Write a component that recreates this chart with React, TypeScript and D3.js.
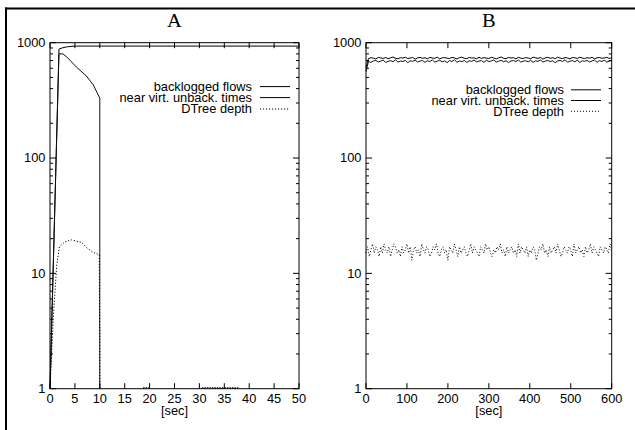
import React from 'react';
import * as d3 from 'd3';

const panelTitles = ['A', 'B'];
const legendLabels = ['backlogged flows', 'near virt. unback. times', 'DTree depth'];
const yTickValues = [1, 10, 100, 1000];
const xTicksA = [0, 5, 10, 15, 20, 25, 30, 35, 40, 45, 50];
const xTicksB = [0, 100, 200, 300, 400, 500, 600];
const xLabel = '[sec]';

// Panel A (time in sec, values)
const aBacklogT = [0, 1.8, 2.6, 3.5, 5, 50];
const aBacklogV = [1, 880, 905, 922, 935, 935];
const aNearT = [0, 1.8, 2.6, 3.4, 5.3, 7.3, 8.7, 10, 10];
const aNearV = [1, 800, 800, 750, 615, 515, 430, 330, 1];
const aDepthT = [0, 0.7, 1.35, 1.9, 3, 4.3, 5.3, 6.3, 7.5, 8.7, 9.9, 10];
const aDepthV = [1, 4.4, 11.8, 17, 18.8, 19.5, 19, 18.6, 16.5, 15.2, 14.5, 1];
const aDepthFloorStart = [18.7, 30.5];
const aDepthFloorEnd = [20, 38];

// Panel B: sampled every 6 s (flows) and every 4 s (depth)
const bFlowStep = 6;
const bBacklogV = [610, 728, 741, 735, 722, 746, 738, 730, 744, 727, 739, 751, 733, 725, 742, 736, 748, 729, 735, 744, 721, 738, 747, 732, 740, 726, 745, 737, 731, 749, 724, 739, 743, 734, 728, 746, 738, 722, 741, 750, 733, 727, 744, 736, 739, 725, 748, 731, 742, 735, 729, 746, 738, 724, 740, 751, 733, 728, 745, 737, 741, 723, 747, 734, 730, 743, 736, 726, 749, 739, 732, 744, 721, 738, 746, 733, 741, 727, 750, 735, 729, 743, 737, 724, 745, 740, 731, 748, 736, 728, 742, 734, 747, 725, 739, 744, 732, 738, 746, 730, 741];
const bNearV = [560, 688, 676, 695, 702, 681, 692, 708, 673, 690, 699, 684, 712, 678, 694, 686, 703, 671, 697, 689, 706, 680, 693, 701, 675, 698, 687, 709, 679, 691, 704, 683, 696, 672, 700, 688, 711, 677, 694, 685, 702, 674, 697, 690, 707, 681, 693, 699, 676, 705, 686, 695, 710, 679, 691, 703, 684, 698, 673, 694, 700, 687, 708, 678, 692, 697, 682, 704, 675, 696, 689, 709, 680, 693, 701, 685, 698, 671, 695, 703, 686, 712, 677, 691, 699, 683, 706, 674, 697, 690, 702, 681, 694, 708, 676, 699, 688, 704, 679, 692, 700];
const bDepthStep = 4;
const bDepthV = [15, 17, 14, 16, 18, 15, 17, 16, 14, 17, 15, 18, 16, 15, 17, 14, 16, 18, 17, 15, 16, 14, 17, 15, 16, 18, 15, 17, 13, 16, 17, 15, 16, 14, 18, 16, 15, 17, 16, 14, 15, 17, 16, 18, 15, 14, 16, 17, 15, 16, 13, 17, 16, 15, 18, 16, 14, 17, 15, 16, 17, 15, 14, 16, 18, 15, 17, 16, 15, 14, 17, 16, 15, 18, 16, 17, 15, 14, 16, 15, 17, 16, 18, 15, 16, 14, 17, 15, 16, 17, 15, 16, 14, 18, 15, 17, 16, 15, 17, 14, 16, 15, 17, 16, 13, 15, 17, 16, 18, 15, 16, 14, 17, 15, 16, 17, 15, 18, 16, 14, 15, 17, 16, 15, 17, 16, 14, 18, 15, 16, 17, 15, 16, 14, 17, 15, 16, 18, 15, 17, 16, 15, 14, 17, 16, 15, 17, 16, 15, 18, 16];

const SANS = "'Liberation Sans', Arial, Helvetica, sans-serif";
const SERIF = "'Liberation Serif', 'Times New Roman', serif";

type Pt = [number, number];
const zip = (t: number[], v: number[]): Pt[] => t.map((tt, i) => [tt, v[i]]);
const sampled = (v: number[], step: number): Pt[] => v.map((vv, i) => [i * step, vv]);

function T({ x, y, anchor, size, family, children, sx = 1.07 }: any) {
  return (
    <text
      transform={`translate(${x},${y}) scale(${sx},1)`}
      textAnchor={anchor}
      fontSize={size}
      fontFamily={family}
      fill="#000"
    >
      {children}
    </text>
  );
}

export default function App() {
  const W = 635;
  const H = 430;
  const yTop = 42.7;
  const yBot = 388.7;
  const y = d3.scaleLog().domain([1, 1000]).range([yBot, yTop]).clamp(true);
  const minor: number[] = [];
  [1, 10, 100].forEach((d) => {
    for (let k = 2; k <= 9; k++) minor.push(k * d);
  });

  const panels = [
    {
      title: panelTitles[0],
      x0: 50,
      x1: 299,
      domain: [0, 50],
      ticks: xTicksA,
      series: [
        { pts: zip(aBacklogT, aBacklogV), dash: undefined, color: '#000' },
        { pts: zip(aNearT, aNearV), dash: undefined, color: '#111' },
        { pts: zip(aDepthT, aDepthV), dash: '1.2,1.8', color: '#000' },
      ],
      floors: aDepthFloorStart.map((s, i) => [s, aDepthFloorEnd[i]]),
      legendY: [86.6, 97.6, 109],
      legendTextX: 252,
      legendLine: [260, 290],
    },
    {
      title: panelTitles[1],
      x0: 366,
      x1: 611.7,
      domain: [0, 600],
      ticks: xTicksB,
      series: [
        { pts: sampled(bBacklogV, bFlowStep), dash: undefined, color: '#000' },
        { pts: sampled(bNearV, bFlowStep), dash: undefined, color: '#111' },
        { pts: sampled(bDepthV, bDepthStep), dash: '1,2', color: '#000' },
      ],
      floors: [] as number[][],
      legendY: [89.8, 100.5, 111.3],
      legendTextX: 564,
      legendLine: [571, 601],
    },
  ];

  return (
    <svg
      width={W}
      height={H}
      style={{ position: 'absolute', left: 0, top: 0, background: '#fff' }}
    >
      <rect x={0} y={0} width={W} height={H} fill="#fff" />
      <line x1={5} y1={8.5} x2={W} y2={8.5} stroke="#000" strokeWidth={2} />
      <line x1={6} y1={7.5} x2={6} y2={H} stroke="#000" strokeWidth={2} />
      {panels.map((p) => {
        const x = d3.scaleLinear().domain(p.domain).range([p.x0, p.x1]);
        const line = d3
          .line<Pt>()
          .x((d) => x(d[0]))
          .y((d) => y(d[1]));
        const cx = (p.x0 + p.x1) / 2;
        return (
          <g key={p.title}>
            <T x={cx} y={27.3} anchor="middle" size={19} family={SERIF} sx={1.08}>
              {p.title}
            </T>
            {p.series.map((s, i) => (
              <path
                key={i}
                d={line(s.pts) || ''}
                fill="none"
                stroke={s.color}
                strokeWidth={1}
                strokeDasharray={s.dash}
              />
            ))}
            {p.floors.map((f, i) => (
              <line
                key={'f' + i}
                x1={x(f[0])}
                x2={x(f[1])}
                y1={y(1) - 0.8}
                y2={y(1) - 0.8}
                stroke="#000"
                strokeWidth={1.2}
                strokeDasharray="1.5,1"
              />
            ))}
            <rect
              x={p.x0}
              y={yTop}
              width={p.x1 - p.x0}
              height={yBot - yTop}
              fill="none"
              stroke="#000"
              strokeWidth={1}
            />
            {p.ticks.map((t) => (
              <g key={'x' + t}>
                <line x1={x(t)} x2={x(t)} y1={yBot} y2={yBot - 5.5} stroke="#000" />
                <line x1={x(t)} x2={x(t)} y1={yTop} y2={yTop + 5.5} stroke="#000" />
                <T x={x(t)} y={403.3} anchor="middle" size={12} family={SANS}>
                  {String(t)}
                </T>
              </g>
            ))}
            {yTickValues.map((v) => (
              <g key={'y' + v}>
                <line x1={p.x0} x2={p.x0 + 6} y1={y(v)} y2={y(v)} stroke="#000" />
                <line x1={p.x1} x2={p.x1 - 6} y1={y(v)} y2={y(v)} stroke="#000" />
                <T x={p.x0 - 4.5} y={y(v) + 4.2} anchor="end" size={12} family={SANS}>
                  {String(v)}
                </T>
              </g>
            ))}
            {minor.map((v) => (
              <g key={'m' + v}>
                <line x1={p.x0} x2={p.x0 + 3} y1={y(v)} y2={y(v)} stroke="#000" />
                <line x1={p.x1} x2={p.x1 - 3} y1={y(v)} y2={y(v)} stroke="#000" />
              </g>
            ))}
            <T x={cx} y={415} anchor="middle" size={12} family={SANS}>
              {xLabel}
            </T>
            {legendLabels.map((lab, i) => (
              <g key={'l' + i}>
                <T x={p.legendTextX} y={p.legendY[i] + 4.2} anchor="end" size={12} family={SANS}>
                  {lab}
                </T>
                <line
                  x1={p.legendLine[0]}
                  x2={p.legendLine[1]}
                  y1={p.legendY[i]}
                  y2={p.legendY[i]}
                  stroke="#000"
                  strokeWidth={1}
                  strokeDasharray={p.series[i].dash}
                />
              </g>
            ))}
          </g>
        );
      })}
    </svg>
  );
}
